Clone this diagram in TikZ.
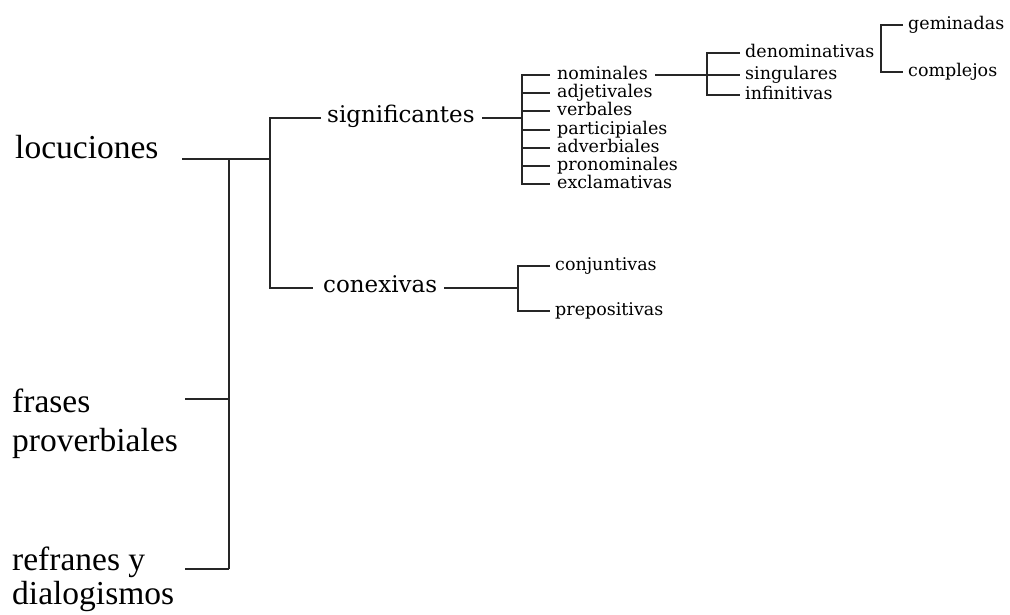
\documentclass[tikz,border=0pt]{standalone}
\usepackage{fontspec}
\setmainfont{Liberation Serif}
\newfontfamily\slabfont{DejaVu Serif}

\begin{document}
\begin{tikzpicture}[
	x=1pt, y=-1pt,
	big/.style={inner sep=0pt, anchor=base west, font=\fontsize{33.5}{39}\selectfont},
	mid/.style={inner sep=0pt, anchor=base west, font=\slabfont\fontsize{23}{27}\selectfont},
	small/.style={inner sep=0pt, anchor=base west, font=\slabfont\fontsize{17.5}{18}\selectfont},
	line/.style={draw, line width=1.1pt, black!85},
	]
	\useasboundingbox (0,0) rectangle (1010,614);

	%Ebene 0
	\node[big] (loc) at (15,158) {locuciones};
	\node[big] (fra) at (12,412) {frases};
	\node[big] (pro) at (12,451) {proverbiales};
	\node[big] (ref) at (12,570) {refranes y};
	\node[big] (dia) at (12,604) {dialogismos};
	\coordinate (loc-e) at (182,159);
	\coordinate (fra-e) at (185,399);
	\coordinate (ref-e) at (185,569);
	\coordinate (a-top) at (229,159);
	\coordinate (a-mid) at (229,399);
	\coordinate (a-bot) at (229,569);

	%Ebene 1
	\coordinate (b-top) at (270,118);
	\coordinate (b-mid) at (270,159);
	\coordinate (b-bot) at (270,288);
	\coordinate (sig-w) at (321,118);
	\node[mid] (sig) at (327,122) {significantes};
	\coordinate (sig-e) at (482,118);
	\coordinate (con-w) at (313,288);
	\node[mid] (con) at (323,292) {conexivas};
	\coordinate (con-e) at (444,288);

	%Ebene 2
	\coordinate (c-top) at (522,75);
	\coordinate (c-mid) at (522,118);
	\coordinate (c-bot) at (522,184);
	\coordinate (nom-w) at (550,75);
	\coordinate (adj-w) at (550,93);
	\coordinate (ver-w) at (550,111);
	\coordinate (par-w) at (550,130);
	\coordinate (adv-w) at (550,148);
	\coordinate (pron-w) at (550,166);
	\coordinate (exc-w) at (550,184);
	\node[small] (nom) at (557,79) {nominales};
	\node[small] (adj) at (557,97) {adjetivales};
	\node[small] (ver) at (557,115) {verbales};
	\node[small] (par) at (557,134) {participiales};
	\node[small] (adv) at (557,152) {adverbiales};
	\node[small] (pron) at (557,170) {pronominales};
	\node[small] (exc) at (557,188) {exclamativas};
	\coordinate (nom-e) at (655,75);

	\coordinate (k-top) at (518,266);
	\coordinate (k-mid) at (518,288);
	\coordinate (k-bot) at (518,311);
	\coordinate (conj-w) at (550,266);
	\coordinate (prep-w) at (550,311);
	\node[small] (conj) at (555,270) {conjuntivas};
	\node[small] (prep) at (555,315) {prepositivas};

	%Ebene 3
	\coordinate (d-top) at (707,53);
	\coordinate (d-mid) at (707,75);
	\coordinate (d-bot) at (707,95);
	\coordinate (den-w) at (740,53);
	\coordinate (sing-w) at (740,75);
	\coordinate (inf-w) at (740,95);
	\node[small] (den) at (745,57) {denominativas};
	\node[small] (sing) at (745,79) {singulares};
	\node[small] (inf) at (745,99) {infinitivas};

	%Ebene 4
	\coordinate (e-top) at (881,25);
	\coordinate (e-bot) at (881,72);
	\coordinate (gem-w) at (903,25);
	\coordinate (comp-w) at (903,72);
	\node[small] (gem) at (908,29) {geminadas};
	\node[small] (comp) at (908,76) {complejos};

	%Verbindungslinien
	\path[line] (loc-e) -- (b-mid);
	\path[line] (a-top) -- (a-bot);
	\path[line] (fra-e) -- (a-mid);
	\path[line] (ref-e) -- (a-bot);
	\path[line] (sig-w) -- (b-top) -- (b-bot) -- (con-w);
	\path[line] (sig-e) -- (c-mid);
	\path[line] (nom-w) -- (c-top) -- (c-bot) -- (exc-w);
	\path[line] (c-top |- adj-w) -- (adj-w);
	\path[line] (c-top |- ver-w) -- (ver-w);
	\path[line] (c-top |- par-w) -- (par-w);
	\path[line] (c-top |- adv-w) -- (adv-w);
	\path[line] (c-top |- pron-w) -- (pron-w);
	\path[line] (con-e) -- (k-mid);
	\path[line] (conj-w) -- (k-top) -- (k-bot) -- (prep-w);
	\path[line] (nom-e) -- (sing-w);
	\path[line] (den-w) -- (d-top) -- (d-bot) -- (inf-w);
	\path[line] (gem-w) -- (e-top) -- (e-bot) -- (comp-w);
\end{tikzpicture}
\end{document}
